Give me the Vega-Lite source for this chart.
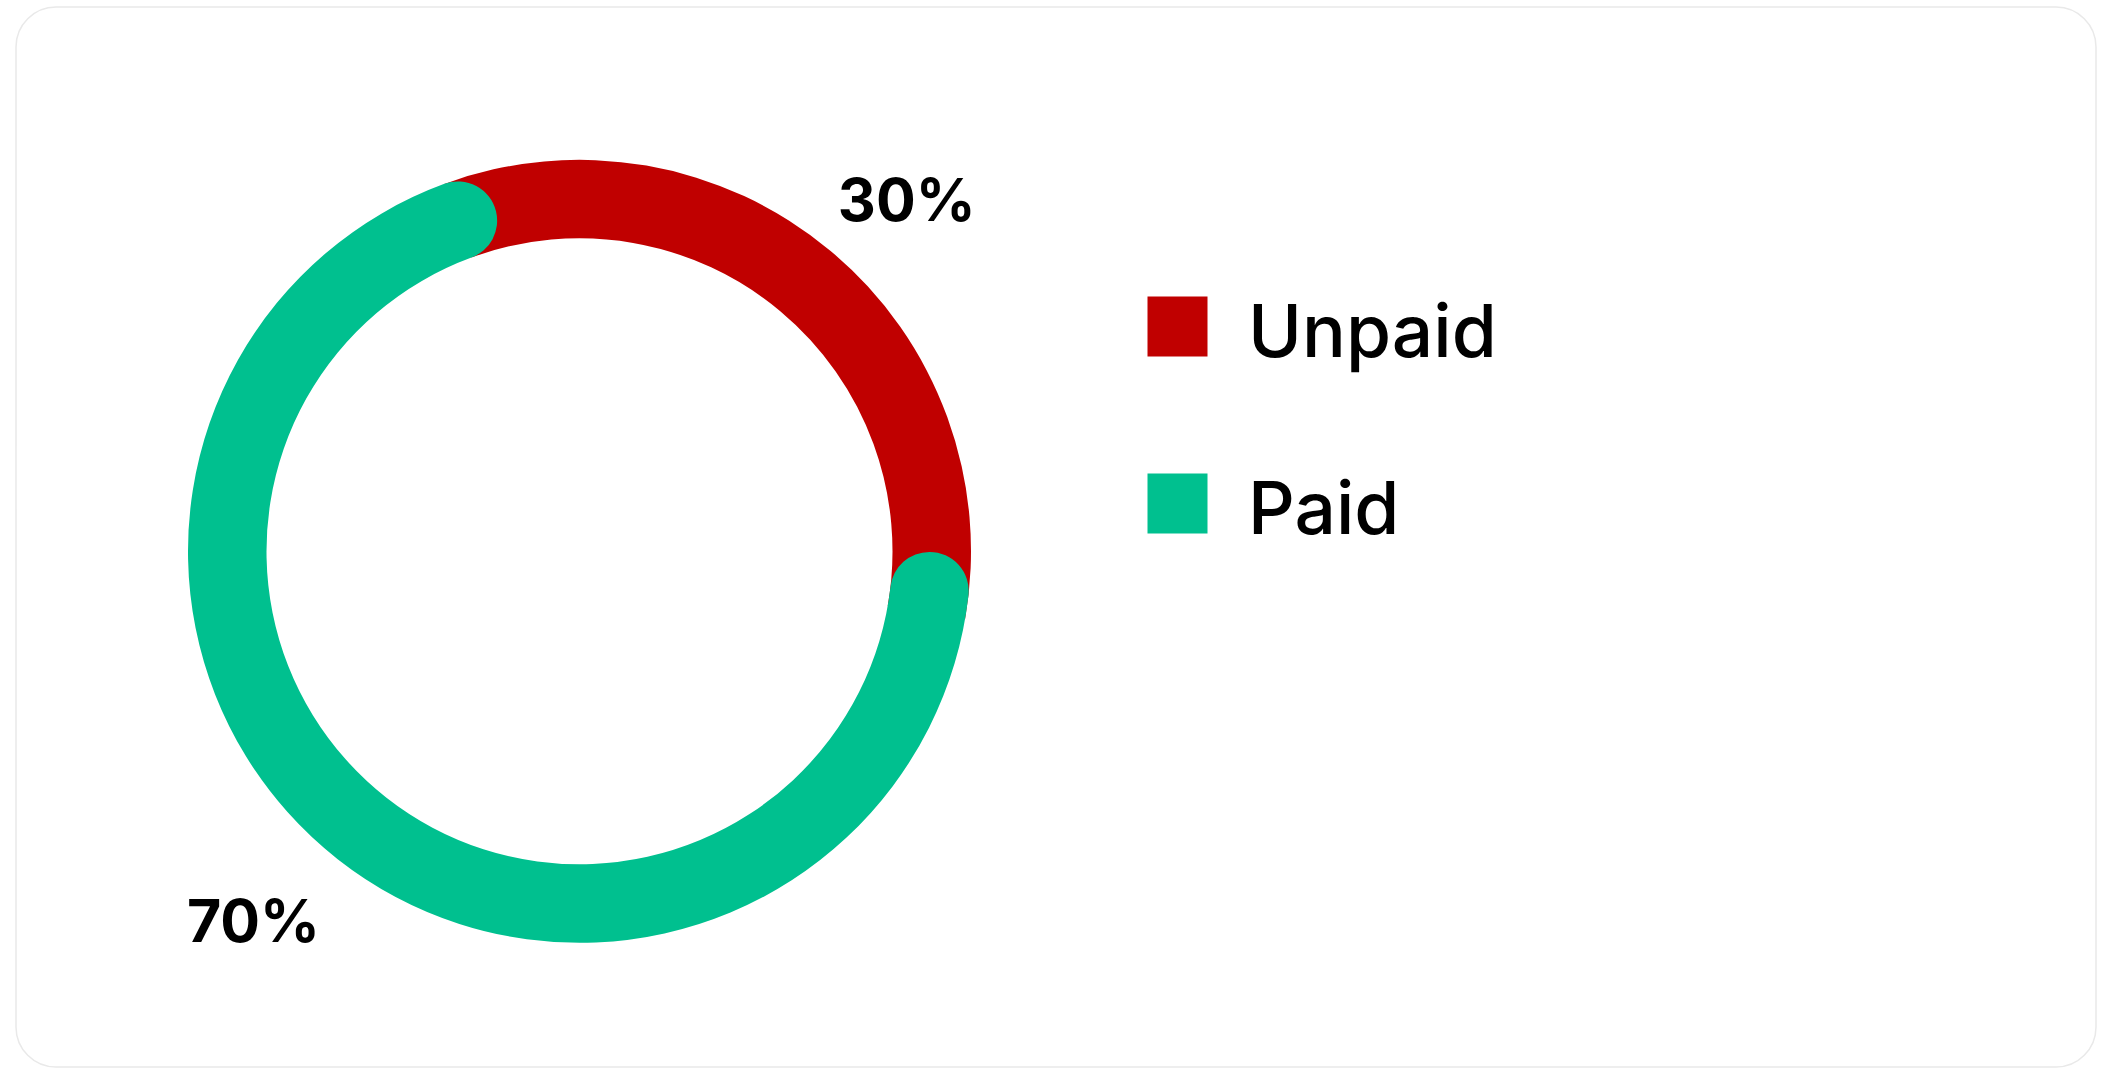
{
  "$schema": "https://vega.github.io/schema/vega-lite/v6.json",
  "width": 2080,
  "height": 1060,
  "padding": {"left": 16, "top": 7, "right": 16, "bottom": 25},
  "autosize": {"type": "none"},
  "background": "#ffffff",
  "config": {
    "view": {"fill": "#ffffff", "stroke": "#e9e9e9", "strokeWidth": 1.5, "cornerRadius": 40},
    "font": "Inter",
    "legend": {
      "title": null,
      "orient": "none",
      "legendX": 1125,
      "legendY": 283,
      "padding": 0,
      "symbolType": "square",
      "symbolSize": 3600,
      "symbolStrokeWidth": 0,
      "symbolOpacity": 1,
      "labelFontSize": 73,
      "labelFont": "Inter",
      "labelFontWeight": 500,
      "labelColor": "#000000",
      "labelOffset": 34,
      "labelLimit": 600,
      "rowPadding": 95
    }
  },
  "data": {
    "values": [
      {"status": "Unpaid", "value": 30, "label": "30%"},
      {"status": "Paid", "value": 70, "label": "70%"}
    ]
  },
  "transform": [
    {"stack": "value", "groupby": [], "sort": [{"field": "status", "order": "ascending"}], "as": ["v0", "v1"]}
  ],
  "layer": [
    {
      "transform": [{"filter": "datum.status === 'Unpaid'"}],
      "mark": {"type": "arc", "radius": 391.5, "radius2": 313},
      "encoding": {
        "x": {"value": 563.5},
        "y": {"value": 544.3},
        "theta": {"field": "v0", "type": "quantitative", "stack": null, "scale": {"domain": [0, 100], "range": [1.0355, 8.0285]}},
        "theta2": {"field": "v1"},
        "color": {
          "field": "status", "type": "nominal",
          "scale": {"domain": ["Unpaid", "Paid"], "range": ["#C00000", "#00C08F"]},
          "legend": {"title": null, "encode": {"labels": {"update": {"dy": {"value": 8}}}}}
        }
      }
    },
    {
      "transform": [{"filter": "datum.status === 'Paid'"}],
      "mark": {"type": "arc", "radius": 391.5, "radius2": 313, "cornerRadius": 39.25},
      "encoding": {
        "x": {"value": 563.5},
        "y": {"value": 544.3},
        "theta": {"field": "v0", "type": "quantitative", "stack": null, "scale": {"domain": [0, 100], "range": [1.5725, 7.958]}},
        "theta2": {"field": "v1"},
        "color": {
          "field": "status", "type": "nominal",
          "scale": {"domain": ["Unpaid", "Paid"], "range": ["#C00000", "#00C08F"]},
          "legend": {"title": null, "encode": {"labels": {"update": {"dy": {"value": 8}}}}}
        }
      }
    },
    {
      "mark": {"type": "text", "font": "Inter", "fontWeight": "bold", "fontSize": 59, "color": "#000000", "align": "center", "baseline": "middle"},
      "encoding": {
        "x": {"value": 563.5},
        "y": {"value": 544.3},
        "theta": {"field": "v1", "type": "quantitative", "stack": null, "scale": {"domain": [70, 100], "range": [3.8607, 7.0372]}},
        "radius": {"field": "v1", "type": "quantitative", "scale": {"type": "linear", "zero": false, "domain": [70, 100], "range": [495, 478]}},
        "text": {"field": "label", "type": "nominal"}
      }
    }
  ],
  "resolve": {"scale": {"theta": "independent"}}
}
